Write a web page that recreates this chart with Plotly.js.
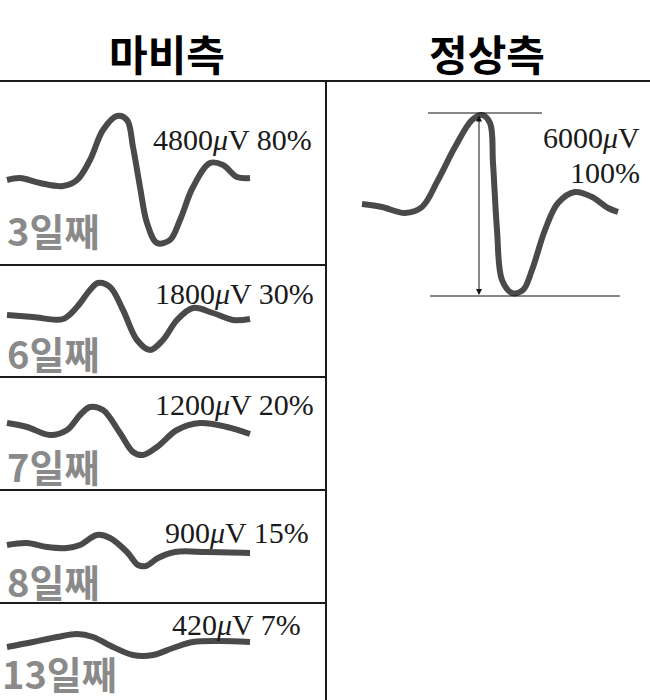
<!DOCTYPE html>
<html>
<head>
<meta charset="utf-8">
<script src="https://cdn.plot.ly/plotly-3.0.1.min.js"></script>
<style>html,body{margin:0;padding:0;background:#fff;}</style>
</head>
<body>
<div id="chart" style="width:650px;height:700px;"></div>
<script>
// ---- Data ----
const columnTitles = ['마비측', '정상측'];
const dayLabels = ['3일째', '6일째', '7일째', '8일째', '13일째'];
const amplitudesUV = [4800, 1800, 1200, 900, 420];
const percents = [80, 30, 20, 15, 7];
const normalAmplitudeUV = 6000;
const normalPercent = 100;

// waveform samples: time (arbitrary units) and amplitude (arbitrary units, up = positive)
const day3T = [7, 20, 40, 63, 77, 90, 103, 117, 127, 133, 140, 147, 157, 170, 180, 193, 210, 223, 237, 250];
const day3A = [0, 2, -3, -6, 0, 20, 50, 64, 60, 33, -7, -43, -63, -60, -40, -7, 17, 15, 3, 2];
const day6T = [7, 33, 63, 77, 90, 98, 110, 123, 137, 150, 163, 177, 193, 213, 233, 250];
const day6A = [2, 0, -2, 10, 27, 34, 30, 7, -23, -33, -23, -3, 9, 4, -3, -2];
const day7T = [7, 27, 50, 67, 80, 90, 103, 120, 133, 143, 157, 177, 200, 227, 250];
const day7A = [4, 0, -8, -3, 12, 20, 17, -6, -25, -28, -20, -3, 4, 0, -7];
const day8T = [7, 27, 47, 67, 80, 97, 110, 127, 138, 146, 158, 175, 207, 250];
const day8A = [2, 4, 0, -1, 2, 12, 9, -5, -18, -19, -11, -5, -5, -6];
const day13T = [7, 33, 57, 77, 93, 113, 133, 153, 173, 193, 220, 250];
const day13A = [-2, 3, 8, 11, 8, -2, -10, -10, -3, 3, 4, 3];
const normalT = [36, 56, 79, 96, 112, 129, 146, 156, 164, 167, 171, 176, 186, 197, 206, 219, 232, 249, 266, 282, 292];
const normalA = [3, 0, -6, 0, 27, 60, 87, 92, 84, 44, -23, -73, -86, -83, -63, -23, 4, 15, 10, -1, -5];

// ---- Layout geometry (pixels) ----
const W = 650, H = 700;
const px = v => v / W;
const py = v => 1 - v / H;
// panel: left, right, top, bottom, baseline (pixel row of amplitude 0)
const panels = [
  {l: 0, r: 326, t: 81, b: 265, base: 180},
  {l: 0, r: 326, t: 265, b: 377, base: 317},
  {l: 0, r: 326, t: 377, b: 490, base: 427},
  {l: 0, r: 326, t: 490, b: 603, base: 547},
  {l: 0, r: 326, t: 603, b: 700, base: 645},
  {l: 326, r: 650, t: 81, b: 700, base: 207}
];
const series = [[day3T, day3A], [day6T, day6A], [day7T, day7A], [day8T, day8A], [day13T, day13A], [normalT, normalA]];

const waveColor = '#4a4a4a';
const traces = [];
const layout = {
  width: W, height: H,
  margin: {l: 0, r: 0, t: 0, b: 0},
  paper_bgcolor: '#ffffff', plot_bgcolor: 'rgba(0,0,0,0)',
  showlegend: false,
  shapes: [], annotations: []
};

panels.forEach((p, i) => {
  const n = i === 0 ? '' : String(i + 1);
  traces.push({
    x: series[i][0], y: series[i][1],
    xaxis: 'x' + n, yaxis: 'y' + n,
    type: 'scatter', mode: 'lines',
    line: {color: waveColor, width: 6, shape: 'spline', smoothing: 1},
    hoverinfo: 'skip'
  });
  const ax = {
    domain: [px(p.l), px(p.r)], range: [0, p.r - p.l],
    showgrid: false, zeroline: false, showticklabels: false, ticks: '', showline: false, fixedrange: true
  };
  const ay = {
    domain: [py(p.b), py(p.t)], range: [p.base - p.b, p.base - p.t],
    showgrid: false, zeroline: false, showticklabels: false, ticks: '', showline: false, fixedrange: true
  };
  if (i > 0) { ax.anchor = 'y' + n; ay.anchor = 'x' + n; }
  layout['xaxis' + n] = ax;
  layout['yaxis' + n] = ay;
});

// frame lines
const frame = {color: '#1e1a18', width: 2};
layout.shapes.push({type: 'line', xref: 'paper', yref: 'paper', x0: 0, x1: 1, y0: py(81), y1: py(81), line: frame});
layout.shapes.push({type: 'line', xref: 'paper', yref: 'paper', x0: px(326), x1: px(326), y0: py(81), y1: 0, line: frame});
[265, 377, 490, 603].forEach(yv => {
  layout.shapes.push({type: 'line', xref: 'paper', yref: 'paper', x0: 0, x1: px(326), y0: py(yv), y1: py(yv), line: frame});
});

// reference lines on normal wave (peak & trough levels)
const peakLevel = Math.max(...normalA) + 2;
const troughLevel = Math.min(...normalA) - 3;
layout.shapes.push({type: 'line', xref: 'x6', yref: 'y6', x0: 102, x1: 216, y0: peakLevel, y1: peakLevel, line: {color: '#111', width: 1.2}});
layout.shapes.push({type: 'line', xref: 'x6', yref: 'y6', x0: 104, x1: 294, y0: troughLevel, y1: troughLevel, line: {color: '#111', width: 1.2}});
layout.annotations.push({
  xref: 'x6', yref: 'y6', axref: 'x6', ayref: 'y6',
  x: 153, y: troughLevel + 1, ax: 153, ay: peakLevel - 1,
  text: '', showarrow: true, arrowhead: 2, startarrowhead: 2, arrowside: 'end+start',
  arrowwidth: 1, arrowsize: 1.2, startarrowsize: 1.2, arrowcolor: '#111'
});

// column titles
const titleFont = {family: 'Noto Sans CJK KR, Noto Sans', size: 42, color: '#000', weight: 700};
layout.annotations.push({xref: 'paper', yref: 'paper', x: px(167), y: py(52), text: '<b>' + columnTitles[0] + '</b>', showarrow: false, xanchor: 'center', yanchor: 'middle', font: titleFont});
layout.annotations.push({xref: 'paper', yref: 'paper', x: px(487), y: py(52), text: '<b>' + columnTitles[1] + '</b>', showarrow: false, xanchor: 'center', yanchor: 'middle', font: titleFont});

// day labels
const dayPos = [[6, 229], [6, 352], [6, 465], [6, 580], [1, 672]];
const dayFont = {family: 'Noto Sans CJK KR, Noto Sans', size: 38, color: '#8a8a8a'};
dayLabels.forEach((t, i) => {
  layout.annotations.push({xref: 'paper', yref: 'paper', x: px(dayPos[i][0]), y: py(dayPos[i][1]), text: '<b>' + t + '</b>', showarrow: false, xanchor: 'left', yanchor: 'middle', borderpad: 0, font: dayFont});
});

// amplitude labels
const ampPos = [[314, 140], [316, 293], [316, 404], [311, 532], [303, 624]];
const serif = {family: 'Liberation Serif, Times New Roman, serif', size: 30, color: '#1a1a1a'};
amplitudesUV.forEach((a, i) => {
  layout.annotations.push({xref: 'paper', yref: 'paper', x: px(ampPos[i][0]), y: py(ampPos[i][1]), text: a + '<i>μ</i>V ' + percents[i] + '%', showarrow: false, xanchor: 'right', yanchor: 'middle', font: serif});
});
layout.annotations.push({xref: 'paper', yref: 'paper', x: px(642), y: py(137), text: normalAmplitudeUV + '<i>μ</i>V', showarrow: false, xanchor: 'right', yanchor: 'middle', font: serif});
layout.annotations.push({xref: 'paper', yref: 'paper', x: px(642), y: py(173), text: normalPercent + '%', showarrow: false, xanchor: 'right', yanchor: 'middle', font: serif});

Plotly.newPlot('chart', traces, layout, {displayModeBar: false, staticPlot: true});
</script>
</body>
</html>
